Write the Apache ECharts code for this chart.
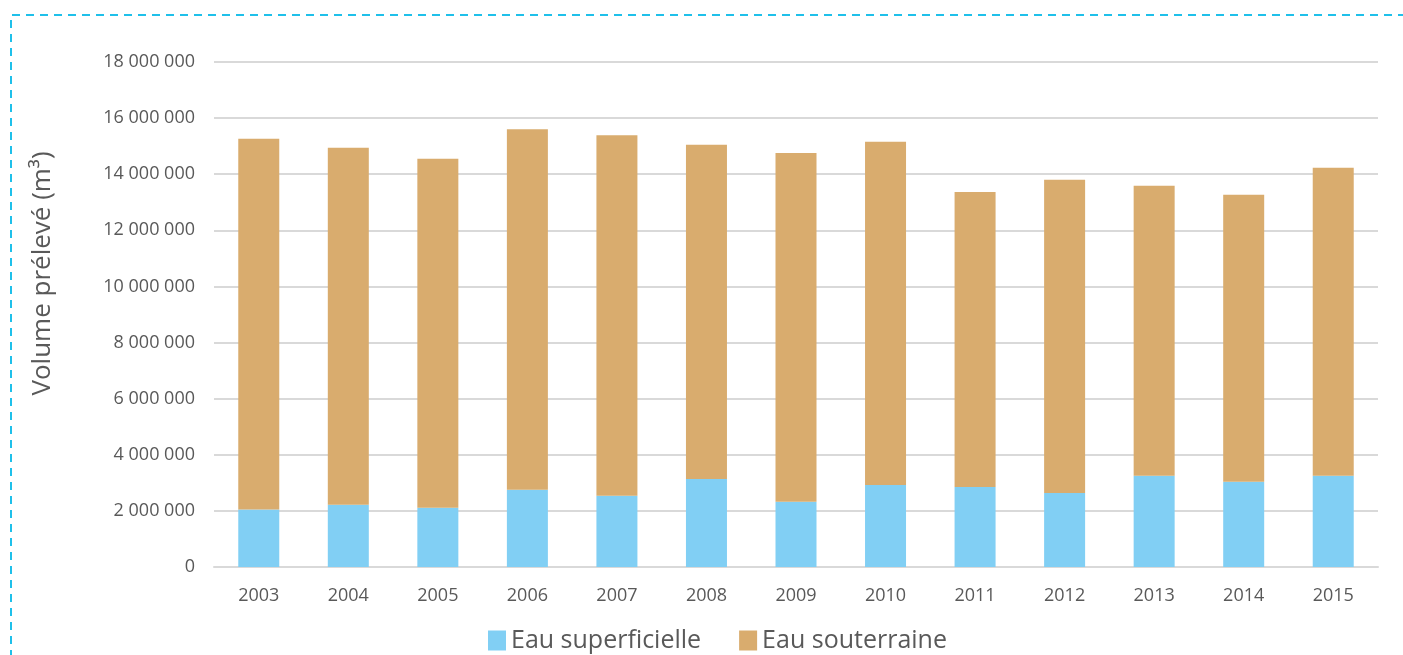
<!DOCTYPE html>
<html>
<head>
<meta charset="utf-8">
<script src="https://cdn.jsdelivr.net/npm/echarts@6/dist/echarts.min.js"></script>
<style>
  html, body { margin: 0; padding: 0; background: #ffffff; }
  #chart { width: 1403px; height: 655px; }
</style>
</head>
<body>
<div id="chart"></div>
<script>
const years = ['2003','2004','2005','2006','2007','2008','2009','2010','2011','2012','2013','2014','2015'];
const eauSuperficielle = [2050000, 2220000, 2110000, 2750000, 2540000, 3140000, 2330000, 2920000, 2850000, 2640000, 3250000, 3040000, 3250000];
const eauSouterraine = [13210000, 12720000, 12440000, 12850000, 12850000, 11910000, 12430000, 12240000, 10520000, 11160000, 10340000, 10230000, 10980000];
const seriesNames = ['Eau superficielle', 'Eau souterraine'];
const axisTitle = 'Volume prélevé (m³)';

const FONT = '"Open Sans", "Noto Sans", sans-serif';
const chart = echarts.init(document.getElementById('chart'));
function fmt(v) {
  return String(v).replace(/\B(?=(\d{3})+(?!\d))/g, ' ');
}
chart.setOption({
  animation: false,
  backgroundColor: '#ffffff',
  textStyle: { fontFamily: FONT },
  grid: { left: 214, right: 25, top: 62, bottom: 88, containLabel: false },
  graphic: [
    {
      type: 'polyline',
      shape: { points: [[11, 700], [11, 15], [1410, 15]] },
      style: { stroke: '#1fc0ea', lineWidth: 2, lineDash: [8, 6], fill: null }
    }
  ],
  legend: {
    data: seriesNames,
    left: 483,
    top: 623,
    itemWidth: 18,
    itemHeight: 20,
    itemGap: 38,
    icon: 'rect',
    textStyle: { fontSize: 25, color: '#595959', fontFamily: FONT }
  },
  xAxis: {
    type: 'category',
    data: years,
    axisLine: { show: true, lineStyle: { color: '#d9d9d9', width: 2 } },
    axisTick: { show: false },
    axisLabel: { color: '#595959', fontSize: 18, margin: 20, fontFamily: FONT }
  },
  yAxis: {
    type: 'value',
    min: 0,
    max: 18000000,
    interval: 2000000,
    name: axisTitle,
    nameLocation: 'middle',
    nameRotate: 90,
    nameGap: 158,
    nameTextStyle: { fontSize: 26, color: '#595959', fontFamily: FONT, padding: [0, 0, 0, 82] },
    axisLine: { show: false },
    axisTick: { show: false },
    splitLine: { lineStyle: { color: '#d9d9d9', width: 2 } },
    axisLabel: { color: '#595959', fontSize: 18, margin: 19, formatter: fmt, fontFamily: FONT }
  },
  series: [
    {
      name: seriesNames[0],
      type: 'bar',
      stack: 'total',
      barWidth: 41,
      data: eauSuperficielle,
      itemStyle: { color: '#81cff4' }
    },
    {
      name: seriesNames[1],
      type: 'bar',
      stack: 'total',
      barWidth: 41,
      data: eauSouterraine,
      itemStyle: { color: '#d9ac6e' }
    }
  ]
});
</script>
</body>
</html>
